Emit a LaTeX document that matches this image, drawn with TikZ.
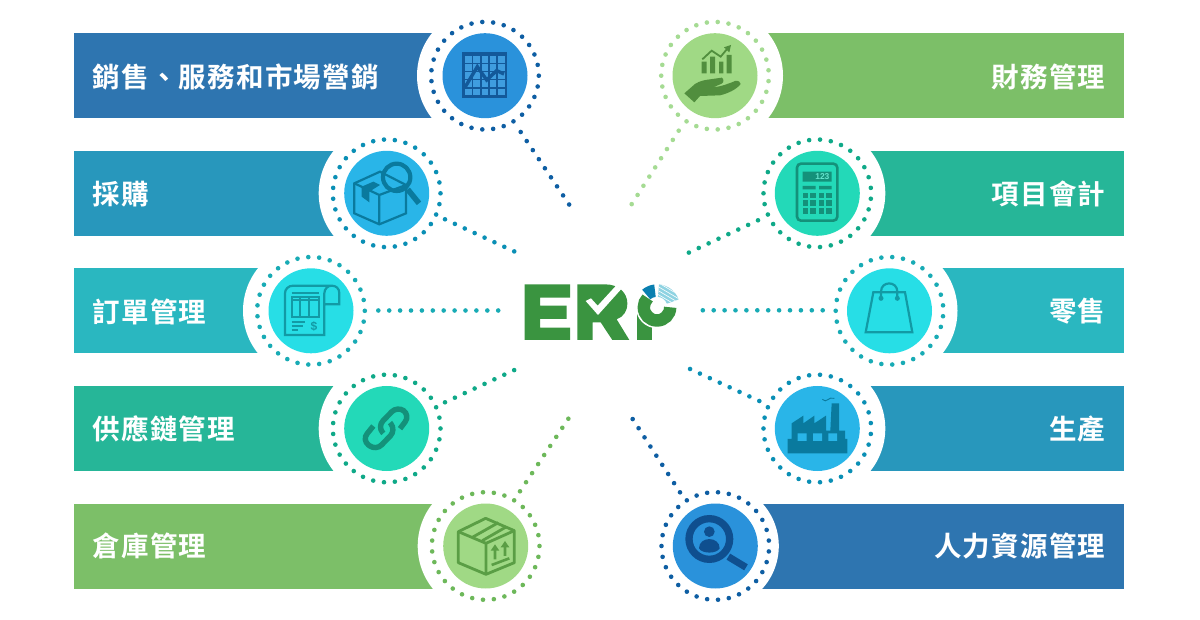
\documentclass[tikz,border=0pt]{standalone}
\usepackage{fontspec}
\newfontfamily\cjkb[LetterSpace=4.5]{Noto Sans CJK TC Bold}
\setmainfont{Liberation Sans}
\definecolor{barA}{HTML}{2E75B0}\definecolor{cirA}{HTML}{2A92DB}\definecolor{dotA}{HTML}{0E5EA3}\definecolor{icoA}{HTML}{0F4F8F}
\definecolor{barB}{HTML}{2897BC}\definecolor{cirB}{HTML}{29B5E8}\definecolor{dotB}{HTML}{0A8FB5}\definecolor{icoB}{HTML}{0A7A9E}
\definecolor{barC}{HTML}{2AB7C0}\definecolor{cirC}{HTML}{27DEE6}\definecolor{dotC}{HTML}{18ABB5}\definecolor{icoC}{HTML}{129AA5}
\definecolor{barD}{HTML}{26B698}\definecolor{cirD}{HTML}{23D9B8}\definecolor{dotD}{HTML}{0FA988}\definecolor{icoD}{HTML}{14917A}
\definecolor{barE}{HTML}{7CBF68}\definecolor{cirE}{HTML}{A0D985}\definecolor{dotE}{HTML}{6DB85A}\definecolor{icoE}{HTML}{5A9E45}
\definecolor{dotF}{HTML}{A5DB93}
\definecolor{logoG}{HTML}{3A9440}\definecolor{logoB}{HTML}{0A7FB0}\definecolor{logoH}{HTML}{8FD3E2}
\tikzset{
  zm/.style 2 args={shift={(#1,#2)},x=0.33333pt,y=-0.33333pt},
  hub/.style={circle,minimum size=85pt,inner sep=0pt,fill=#1},
  label/.style={text=white,inner sep=0pt,font=\fontsize{27.5}{30}\cjkb},
  conn/.style={draw=#1,line width=4.6pt,line cap=round,dash pattern=on 0pt off 10.9pt},
  ln/.style={draw=#1,line width=2.2pt,line join=miter},
}
\def\wrad{68}
% \entry{name}{x}{y}{bar colour}{circle colour}{dot colour}{start angle}{bar left}{bar right}
\newcommand{\entry}[9]{%
  \fill[#4] (#8,#3-42.5) rectangle (#9,#3+42.5);
  \fill[white] (#2,#3) circle[radius=\wrad];
  \node[hub=#5] (#1) at (#2,#3) {};
  \foreach \k in {0,...,30}{\fill[#6] (#2,#3) ++({#7+\k*360/31}:53.8) circle[radius=2.3];}
}
\begin{document}
\begin{tikzpicture}[x=1pt,y=-1pt]
\useasboundingbox (0,0) rectangle (1200,620);
\fill[white] (0,0) rectangle (1200,620);
% left column
\entry{La}{485}{75.7}{barA}{cirA}{dotA}{0}{74}{485}
\entry{Lb}{386.7}{193.3}{barB}{cirB}{dotB}{0}{74}{386.7}
\entry{Lc}{311}{310.8}{barC}{cirC}{dotC}{0}{74}{311}
\entry{Ld}{386.7}{428.5}{barD}{cirD}{dotD}{0}{74}{386.7}
\entry{Le}{485.7}{546}{barE}{cirE}{dotE}{0}{74}{485.7}
% right column
\entry{Ra}{715}{75.7}{barE}{cirE}{dotF}{180}{715}{1123.5}
\entry{Rb}{817.3}{193.3}{barD}{cirD}{dotD}{180}{817.3}{1123.5}
\entry{Rc}{889.5}{310.8}{barC}{cirC}{dotC}{180}{889.5}{1123.5}
\entry{Rd}{817.3}{428.5}{barB}{cirB}{dotB}{180}{817.3}{1123.5}
\def\wrad{63.5}
\entry{Re}{715.3}{546}{barA}{cirA}{dotA}{180}{715.3}{1123.5}
% labels
\node[label,anchor=west] (tLa) at (92.5,76.5) {銷售、服務和市場營銷};
\node[label,anchor=west] (tLb) at (92.5,194) {採購};
\node[label,anchor=west] (tLc) at (92.5,311.5) {訂單管理};
\node[label,anchor=west] (tLd) at (92.5,429) {供應鏈管理};
\node[label,anchor=west] (tLe) at (92.5,546) {倉庫管理};
\node[label,anchor=east] (tRa) at (1105.5,76.5) {財務管理};
\node[label,anchor=east] (tRb) at (1105.5,194) {項目會計};
\node[label,anchor=east] (tRc) at (1105.5,311.5) {零售};
\node[label,anchor=east] (tRd) at (1105.5,429) {生產};
\node[label,anchor=east] (tRe) at (1105.5,546) {人力資源管理};
% connectors
\coordinate (aLa) at (520.7,132);   \coordinate (bLa) at (569.2,204.6);
\coordinate (aLb) at (445,219.3);   \coordinate (bLb) at (515.5,252);
\coordinate (aLc) at (378.3,310.5); \coordinate (bLc) at (499.5,310.5);
\coordinate (aLd) at (445,402.3);   \coordinate (bLd) at (515.5,369.5);
\coordinate (aLe) at (520,491.3);   \coordinate (bLe) at (568.5,418.5);
\coordinate (aRa) at (678.7,130.7); \coordinate (bRa) at (630.5,206);
\coordinate (aRb) at (758,220.3);   \coordinate (bRb) at (688,253);
\coordinate (aRc) at (822.7,310.3); \coordinate (bRc) at (702.6,310.3);
\coordinate (aRd) at (759.3,401);   \coordinate (bRd) at (689,368.5);
\coordinate (aRe) at (680,492.3);   \coordinate (bRe) at (632,418);
\draw[conn=dotA] (aLa)--(bLa);
\draw[conn=dotB] (aLb)--(bLb);
\draw[conn=dotC] (aLc)--(bLc);
\draw[conn=dotD] (aLd)--(bLd);
\draw[conn=dotE] (aLe)--(bLe);
\draw[conn=dotF] (aRa)--(bRa);
\draw[conn=dotD] (aRb)--(bRb);
\draw[conn=dotC] (aRc)--(bRc);
\draw[conn=dotB] (aRd)--(bRd);
\draw[conn=dotA] (aRe)--(bRe);
% --- icon: chart
\begin{scope}[zm={400}{10}]
\fill[icoA!85!cirA] (185,127) rectangle (322,265);
\foreach \i in {0,...,4}\foreach \j in {0,...,4}{
  \fill[cirA!90!white] ({196+\i*24.4},{138+\j*24.4}) rectangle ({196+\i*24.4+20},{138+\j*24.4+20});}
\draw[icoA!85!cirA,line width=3.4pt,line join=miter] (195,232)--(232,170)--(260,210)--(290,182)--(312,192);
\end{scope}
% --- icon: box and magnifier
\begin{scope}[zm={240}{130}]
\draw[ln=icoB] (343,160)--(343,250)--(418,283)--(498,250)--(498,165)--(420,125)--cycle;
\draw[ln=icoB] (343,160)--(418,195)--(498,165) (418,195)--(418,283);
\fill[icoB] (365,170)--(365,200)--(388,217)--(388,185)--(420,165)--(400,155)--cycle;
\draw[icoB,line width=4.2pt] (470,142) circle[radius=41];
\draw[icoB,line width=5.6pt] (503,178)--(537,220);
\end{scope}
% --- icon: invoice
\begin{scope}[zm={240}{130}]
\draw[ln=icoC] (253,523)--(298,523)--(298,490) .. controls (298,475) and (288,467) .. (275,467)--(160,467) .. controls (145,467) and (135,477) .. (135,490)--(135,615)--(253,615)--(253,490) .. controls (253,477) and (263,467) .. (275,467);
\draw[ln=icoC] (155,488)--(238,488);
\draw[ln=icoC] (155,500) rectangle (238,560);
\draw[ln=icoC] (155,510)--(238,510) (180,500)--(180,560) (207,500)--(207,560);
\draw[ln=icoC] (155,575)--(195,575) (155,588)--(188,588) (155,601)--(175,601);
\node[text=icoC,inner sep=0pt,font=\fontsize{12}{12}\selectfont\bfseries] (dollar) at (222,590) {\$};
\end{scope}
% --- icon: link
\begin{scope}[zm={320}{380}]
\draw[icoD,line width=5.4pt,rounded corners=8pt] (190,160)--(172,140)--(232,78)--(270,106)--(240,146);
\draw[icoD,line width=5.4pt,rounded corners=8pt] (210,128)--(228,150)--(168,212)--(126,180)--(160,138);
\end{scope}
% --- icon: parcel
\begin{scope}[zm={320}{380}]
\draw[icoE,line width=2.8pt,line join=round] (415,455)--(497,415)--(583,452)--(583,548)--(498,583)--(415,548)--cycle;
\draw[icoE,line width=2.8pt] (415,455)--(498,490)--(583,452) (498,490)--(498,583);
\draw[icoE,line width=2.8pt] (457,472)--(535,428) (487,482)--(558,441);
\draw[icoE,line width=2.6pt] (525,538)--(525,505) (555,528)--(555,495) (515,555)--(568,535);
\fill[icoE] (512,512)--(525,493)--(538,512)--cycle (542,502)--(555,483)--(568,502)--cycle;
\end{scope}
% --- icon: hand and chart
\begin{scope}[zm={650}{10}]
\fill[icoE!90!black] (155,155) rectangle (170,190) (180,140) rectangle (195,190) (207,155) rectangle (220,190) (230,135) rectangle (245,190);
\draw[icoE!90!black,line width=1.8pt] (157,148)--(185,122)--(212,140)--(232,116);
\fill[icoE!90!black] (243,105)--(238,127)--(222,112)--cycle;
\fill[icoE!90!black] (103,250)--(135,222) .. controls (150,212) and (165,210) .. (180,208) -- (215,203) .. controls (222,205) and (222,218) .. (215,221) -- (190,232) .. controls (210,230) and (235,222) .. (255,213) .. controls (265,211) and (272,216) .. (272,222) .. controls (260,238) and (235,250) .. (210,256) -- (150,258)--(133,277)--cycle;
\end{scope}
% --- icon: calculator
\begin{scope}[zm={650}{10}]
\draw[icoD,line width=2.6pt,rounded corners=4pt] (441,632)--(441,461)--(562,461)--(562,632)--cycle;
\fill[icoD] (458,485) rectangle (545,515) (458,528) rectangle (497,538) (507,528) rectangle (545,538);
\foreach \i in {458,481,506,529}\foreach \j in {548,571,594}{\fill[icoD] (\i,\j) rectangle (\i+16,\j+17);}
\node[text=cirD!70!white,inner sep=0pt,font=\fontsize{8.5}{9}\selectfont\bfseries,anchor=east] (calc) at (539,500) {123};
\end{scope}
% --- icon: bag
\begin{scope}[zm={840}{250}]
\draw[icoC,line width=2.2pt,line join=miter] (100,127)--(195,127)--(217,247)--(77,247)--cycle;
\draw[icoC,line width=2.2pt] (123,145)--(123,125) .. controls (123,92) and (172,92) .. (172,125)--(172,145);
\fill[icoC] (123,145) circle[radius=7.5] (172,145) circle[radius=7.5];
\end{scope}
% --- icon: factory
\begin{scope}[zm={650}{370}]
\fill[icoB] (413,250)--(592,250)--(592,207)--(585,207)--(585,182)--(567,182)--(567,100)--(545,100)--(541,182)--(528,182)--(528,137)--(493,160)--(493,137)--(460,160)--(460,137)--(425,160)--(425,207)--(413,207)--cycle;
\fill[cirB] (443,190) rectangle (470,213) (489,190) rectangle (516,213) (535,190) rectangle (561,213);
\draw[icoB,line width=0.9pt] (517,88) .. controls (530,102) and (535,78) .. (553,85);
\end{scope}
% --- icon: magnifier and person
\begin{scope}[zm={650}{370}]
\draw[icoA,line width=7.3pt] (178,507) circle[radius=61];
\draw[icoA,line width=7pt] (235,560)--(288,592);
\fill[icoA] (178,485) circle[radius=16];
\fill[icoA] (147,535) .. controls (147,498) and (209,498) .. (209,535) .. controls (200,552) and (156,552) .. (147,535)--cycle;
\end{scope}
% --- logo
\begin{scope}[zm={520}{275}]
\fill[logoG] (14,28)--(150,28)--(150,68)--(60,68)--(60,92)--(140,92)--(140,132)--(60,132)--(60,158)--(150,158)--(150,195)--(14,195)--cycle;
\fill[logoG] (172,28)--(255,28) .. controls (298,28) and (322,55) .. (322,85) .. controls (322,110) and (310,125) .. (290,133)--(328,195)--(277,195)--(242,142)--(218,142)--(218,195)--(172,195)--cycle;
\fill[white] (197,78)--(213,70)--(233,92)--(288,32)--(304,42)--(234,120)--cycle;
\fill[logoG] (352,105) rectangle (395,195);
\end{scope}
\coordinate (pc) at (657,307.3);
\fill[white] (pc) circle[radius=21];
\draw[logoG,line width=12.4pt] ([shift={(0:13.2)}]pc) arc[start angle=0,end angle=225,radius=13.2];
\fill[logoB] ([shift={(230:23)}]pc) arc[start angle=230,end angle=263,radius=23] -- ([shift={(263:10.5)}]pc) arc[start angle=263,end angle=230,radius=10.5] -- cycle;
\begin{scope}
\clip ([shift={(275:23)}]pc) arc[start angle=275,end angle=340,radius=23] -- ([shift={(340:10.5)}]pc) arc[start angle=340,end angle=275,radius=10.5] -- cycle;
\fill[logoH] (pc)+(-5,-26) rectangle +(28,5);
\foreach \d in {-30,-27.5,...,30}{\draw[white,line width=0.6pt] (647+\d,292-\d)--++(34,20);}
\end{scope}
\end{tikzpicture}
\end{document}
